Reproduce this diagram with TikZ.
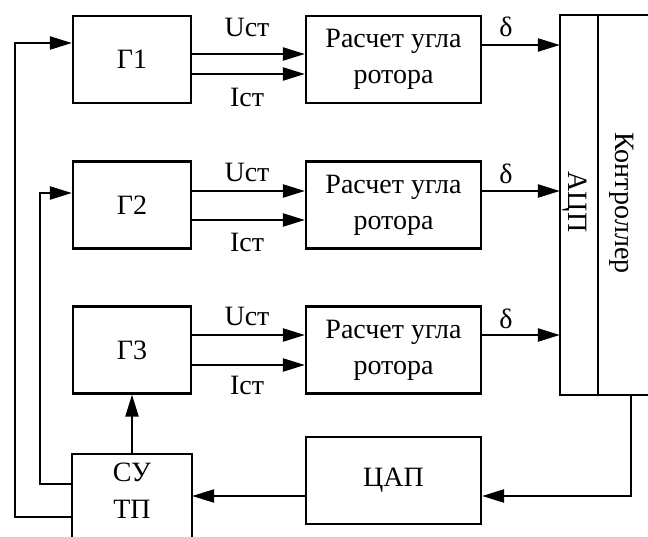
\documentclass[tikz,border=0pt]{standalone}
\usepackage{fontspec}
\setmainfont{Liberation Serif}
\usetikzlibrary{arrows.meta}
\begin{document}
\begin{tikzpicture}[x=1pt,y=-1pt,
  line width=2.2pt,
  blk/.style={draw, line width=2.2pt, inner sep=0pt, align=center, font=\fontsize{28}{36}\selectfont},
  gbox/.style={blk, minimum width=118pt, minimum height=87pt},
  rbox/.style={blk, minimum width=175pt, minimum height=87pt},
  lbl/.style={inner sep=0pt, align=center, font=\fontsize{28}{37}\selectfont},
  arr/.style={-{Triangle[length=22pt,width=13pt]}}]
\useasboundingbox (0,0) rectangle (648,537);
% generators
\node[gbox] (g1) at (132,59.5) {Г1};
\node[gbox] (g2) at (132,205) {Г2};
\node[gbox] (g3) at (132,350) {Г3};
% rotor angle blocks
\node[rbox] (r1) at (393.5,59.5) {Расчет угла\\ротора};
\node[rbox] (r2) at (393.5,205) {Расчет угла\\ротора};
\node[rbox] (r3) at (393.5,350) {Расчет угла\\ротора};
% DAC
\node[rbox] (dac) at (393.5,480.5) {ЦАП};
% SU TP (bottom edge outside picture)
\node[minimum width=118pt, minimum height=90pt, inner sep=0pt] (su) at (132,500) {};
\draw (su.south west) -- (su.north west) -- (su.north east) -- (su.south east);
\node[lbl] (sutxt) at (132,490.5) {СУ\\ТП};
% ADC / controller (right edge outside picture)
\node[minimum width=36pt, minimum height=378pt, inner sep=0pt] (adc) at (579,205) {};
\node[minimum width=51pt, minimum height=378pt, inner sep=0pt] (ctrl) at (622.5,205) {};
\draw (ctrl.north east) -- (adc.north west) -- (adc.south west) -- (ctrl.south east);
\draw (adc.north east) -- (adc.south east);
\node[lbl, rotate=-90] (adctxt) at (575,202) {АЦП};
\node[lbl, rotate=-90] (ctrltxt) at (622,203) {Контроллер};
% G -> R arrows
\draw[arr] (g1.east |- 0,54) -- (r1.west |- 0,54);
\draw[arr] (g1.east |- 0,74) -- (r1.west |- 0,74);
\draw[arr] (g2.east |- 0,191) -- (r2.west |- 0,191);
\draw[arr] (g2.east |- 0,220) -- (r2.west |- 0,220);
\draw[arr] (g3.east |- 0,335) -- (r3.west |- 0,335);
\draw[arr] (g3.east |- 0,365) -- (r3.west |- 0,365);
\node[lbl] (u1) at (247,27) {Uст};
\node[lbl] (i1) at (247,97) {Iст};
\node[lbl] (u2) at (247,172) {Uст};
\node[lbl] (i2) at (247,242) {Iст};
\node[lbl] (u3) at (247,316) {Uст};
\node[lbl] (i3) at (247,385) {Iст};
% R -> ADC
\draw[arr] (r1.east |- 0,45) -- (adc.west |- 0,45);
\draw[arr] (r2.east |- 0,191) -- (adc.west |- 0,191);
\draw[arr] (r3.east |- 0,335) -- (adc.west |- 0,335);
\node[lbl] (d1) at (506,27) {δ};
\node[lbl] (d2) at (506,174) {δ};
\node[lbl] (d3) at (506,319) {δ};
% feedback
\coordinate (cb) at (631,394);
\draw[arr] (cb) -- (631,496) -- (dac.east |- 0,496);
\draw[arr] (dac.west |- 0,496) -- (su.east |- 0,496);
\draw[arr] (su.north) -- (g3.south);
\draw[arr] (su.west |- 0,484) -- (40,484) -- (40,193) -- (g2.west |- 0,193);
\draw[arr] (su.west |- 0,517) -- (15,517) -- (15,43) -- (g1.west |- 0,43);
\end{tikzpicture}
\end{document}
